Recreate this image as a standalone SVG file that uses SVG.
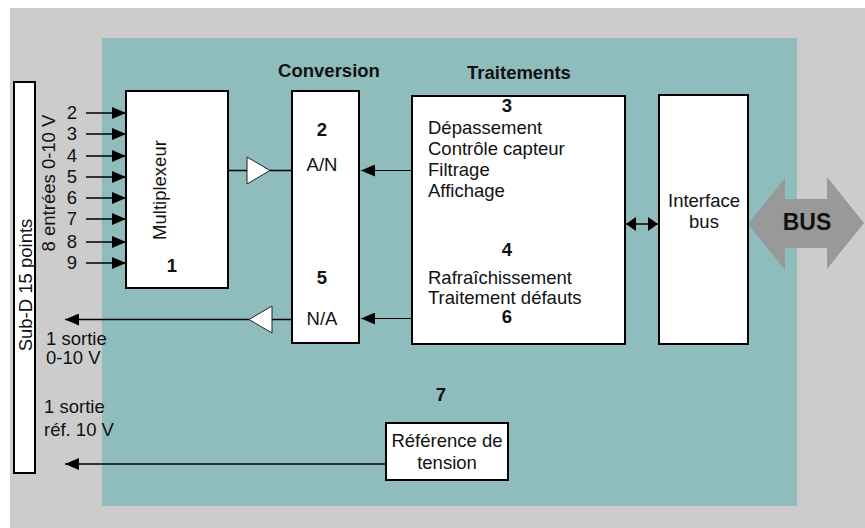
<svg xmlns="http://www.w3.org/2000/svg" width="865" height="528" viewBox="0 0 865 528">
  <style>
    text { font-family: "Liberation Sans", Arial, sans-serif; font-size: 18.5px; fill: #111; }
    .b { font-weight: bold; }
    .c { text-anchor: middle; }
    .box { fill: #fff; stroke: #000; stroke-width: 2; }
    .wire { fill: none; stroke: #000; stroke-width: 1.5; }
    .thin { fill: none; stroke: #000; stroke-width: 1; }
    .amp { fill: #fff; stroke: #222; stroke-width: 1; }
  </style>
  <defs>
    <marker id="ah" viewBox="0 0 14 12" refX="14" refY="6" markerWidth="14" markerHeight="12" markerUnits="userSpaceOnUse" orient="auto">
      <path d="M0,0 L14,6 L0,12 z" fill="#000"/>
    </marker>
    <marker id="ahs" viewBox="0 0 10 14" refX="10" refY="7" markerWidth="10" markerHeight="14" markerUnits="userSpaceOnUse" orient="auto-start-reverse">
      <path d="M0,0 L10,7 L0,14 z" fill="#000"/>
    </marker>
  </defs>

  <!-- backgrounds -->
  <rect x="10" y="8" width="855" height="520" fill="#cccccc"/>
  <rect x="102" y="38" width="695" height="468" fill="#8fbcbc"/>

  <!-- section titles -->
  <text class="b c" x="329" y="77">Conversion</text>
  <text class="b c" x="519" y="79">Traitements</text>

  <!-- connectors -->
  <g id="connectors">
    <line class="wire" x1="86" y1="113" x2="126" y2="113" marker-end="url(#ah)"/>
    <line class="wire" x1="86" y1="134" x2="126" y2="134" marker-end="url(#ah)"/>
    <line class="wire" x1="86" y1="156" x2="126" y2="156" marker-end="url(#ah)"/>
    <line class="wire" x1="86" y1="177" x2="126" y2="177" marker-end="url(#ah)"/>
    <line class="wire" x1="86" y1="198" x2="126" y2="198" marker-end="url(#ah)"/>
    <line class="wire" x1="86" y1="219" x2="126" y2="219" marker-end="url(#ah)"/>
    <line class="wire" x1="86" y1="242" x2="126" y2="242" marker-end="url(#ah)"/>
    <line class="wire" x1="86" y1="263" x2="126" y2="263" marker-end="url(#ah)"/>

    <!-- multiplexer to A/N through amplifier -->
    <line class="wire" x1="228" y1="170.5" x2="247" y2="170.5"/>
    <polygon class="amp" points="247,157 270,170.5 247,184"/>
    <line class="wire" x1="270" y1="170.5" x2="292" y2="170.5"/>

    <!-- processing to converters -->
    <line class="thin" x1="412" y1="170.5" x2="361" y2="170.5" marker-end="url(#ah)"/>
    <line class="thin" x1="412" y1="318.5" x2="361" y2="318.5" marker-end="url(#ah)"/>

    <!-- N/A output through amplifier -->
    <line class="wire" x1="292" y1="319.5" x2="272" y2="319.5"/>
    <polygon class="amp" points="272,306 249,319.5 272,333"/>
    <line class="wire" x1="249" y1="319.5" x2="65" y2="319.5" marker-end="url(#ah)"/>

    <!-- voltage reference output -->
    <line class="wire" x1="386" y1="464" x2="65" y2="464" marker-end="url(#ah)"/>

    <!-- processing <-> bus interface -->
    <line class="wire" x1="626" y1="224" x2="658" y2="224" marker-start="url(#ahs)" marker-end="url(#ahs)"/>

    <!-- external bus -->
    <polygon points="748,224 785,178 785,199 827,199 827,177 864,223 827,269 827,248 785,248 785,270" fill="#999999"/>
  </g>

  <!-- connector -->
  <g id="subd">
    <rect class="box" x="14" y="82" width="21" height="391"/>
    <text class="c" transform="translate(25,285) rotate(-90)" dy="6.5">Sub-D 15 points</text>
  </g>

  <g id="inputs">
    <text class="c" transform="translate(48,183) rotate(-90)" dy="6.5">8 entrées 0-10 V</text>
    <text class="c" x="72" y="119">2</text>
    <text class="c" x="72" y="140">3</text>
    <text class="c" x="72" y="162">4</text>
    <text class="c" x="72" y="183">5</text>
    <text class="c" x="72" y="204">6</text>
    <text class="c" x="72" y="225">7</text>
    <text class="c" x="72" y="248">8</text>
    <text class="c" x="72" y="269">9</text>
  </g>

  <g id="outputs">
    <text x="46" y="345">1 sortie</text>
    <text x="46" y="364">0-10 V</text>
    <text x="44" y="413">1 sortie</text>
    <text x="44" y="436">réf. 10 V</text>
  </g>

  <g id="mux">
    <rect class="box" x="126" y="91" width="102" height="197"/>
    <text class="c" transform="translate(159,190) rotate(-90)" dy="6.5">Multiplexeur</text>
    <text class="b c" x="172" y="272">1</text>
  </g>

  <g id="converter">
    <rect class="box" x="292" y="91" width="67" height="252"/>
    <text class="b c" x="322" y="136">2</text>
    <text class="c" x="322" y="171">A/N</text>
    <text class="b c" x="322" y="284">5</text>
    <text class="c" x="322" y="325">N/A</text>
  </g>

  <g id="processing">
    <rect class="box" x="412" y="96" width="213" height="248"/>
    <text class="b c" x="507" y="112">3</text>
    <text x="428" y="134">Dépassement</text>
    <text x="428" y="155">Contrôle capteur</text>
    <text x="428" y="176">Filtrage</text>
    <text x="428" y="197">Affichage</text>
    <text class="b c" x="507" y="256">4</text>
    <text x="428" y="284">Rafraîchissement</text>
    <text x="428" y="304">Traitement défauts</text>
    <text class="b c" x="507" y="323">6</text>
  </g>

  <g id="businterface">
    <rect class="box" x="659" y="95" width="89" height="249"/>
    <text class="c" x="704" y="207">Interface</text>
    <text class="c" x="704" y="228">bus</text>
  </g>

  <g id="bus">
    <text class="b c" x="807" y="230" style="font-size:23px">BUS</text>
  </g>

  <g id="reference">
    <text class="b c" x="441" y="401">7</text>
    <rect class="box" x="386" y="423" width="122" height="57"/>
    <text class="c" x="447" y="447">Référence de</text>
    <text class="c" x="447" y="469">tension</text>
  </g>
</svg>
